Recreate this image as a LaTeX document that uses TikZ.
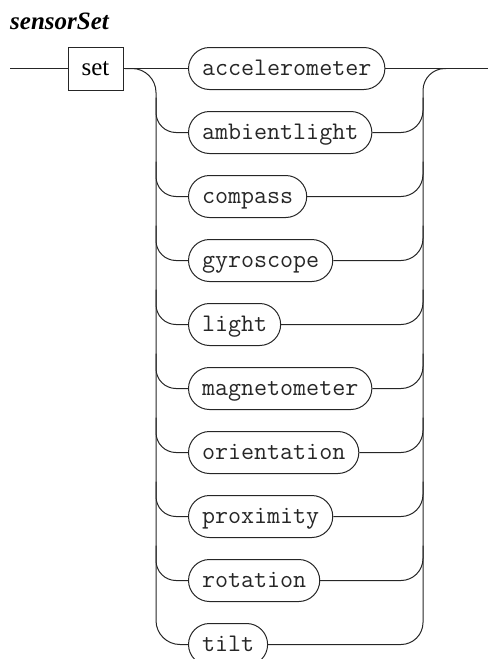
\documentclass[tikz,border=0pt]{standalone}
\usepackage{fontspec}
\setmainfont{Liberation Serif}
\usetikzlibrary{calc}
\tikzset{
  conn/.style={line width=1pt, draw=black!85},
  term/.style={draw=black!85, line width=1pt, rounded corners=21pt, minimum height=42pt,
    inner xsep=13.5pt, inner ysep=0pt, text height=14pt, text depth=0pt,
    font=\ttfamily\fontsize{25.3}{27}\selectfont, anchor=west, text=black!85},
  nterm/.style={draw=black!85, line width=1pt, minimum width=55pt, minimum height=43pt,
    inner sep=0pt, text height=14pt, text depth=0pt,
    font=\fontsize{25}{28}\selectfont},
}
\begin{document}
\begin{tikzpicture}[x=1pt,y=-1pt]
\useasboundingbox (0,0) rectangle (488,659);
\node[anchor=base west, inner sep=0pt, font=\fontsize{25}{28}\selectfont\bfseries\itshape] (title) at (10,29) {sensorSet};
\coordinate (start) at (10,68.5);
\coordinate (finish) at (488,68.5);
\node[nterm] (set) at (95.5,68.5) {set};
\node[term] (t1) at (188,68.5) {accelerometer};
\node[term] (t2) at (188,132.5) {ambientlight};
\node[term] (t3) at (188,196.5) {compass};
\node[term] (t4) at (188,260.5) {gyroscope};
\node[term] (t5) at (188,324.5) {light};
\node[term] (t6) at (188,388.5) {magnetometer};
\node[term] (t7) at (188,452.5) {orientation};
\node[term] (t8) at (188,516.5) {proximity};
\node[term] (t9) at (188,580.5) {rotation};
\node[term] (t10) at (188,644.5) {tilt};
\coordinate (L) at (156,68.5);
\coordinate (R) at (423,68.5);
\coordinate (Rend) at (446,68.5);
\coordinate (Lstart) at (125,68.5);
% main line
\draw[conn] (start) -- (set.west);
\draw[conn] (set.east) -- (t1.west);
\draw[conn] (t1.east) -- (finish);
% left branches
\draw[conn, rounded corners=24pt] (Lstart) -| (t10.west -| L) -- (t10.west);
\foreach \i in {2,...,9}{
  \draw[conn, rounded corners=20pt] ($(t\i.west -| L)+(0,-35)$) |- (t\i.west);
}
% right branches
\draw[conn, rounded corners=22pt] (t10.east) -| (R) -- (Rend);
\foreach \i in {2,...,9}{
  \draw[conn, rounded corners=22pt] (t\i.east) -| ($(t\i.east -| R)+(0,-35)$);
}
\end{tikzpicture}
\end{document}
